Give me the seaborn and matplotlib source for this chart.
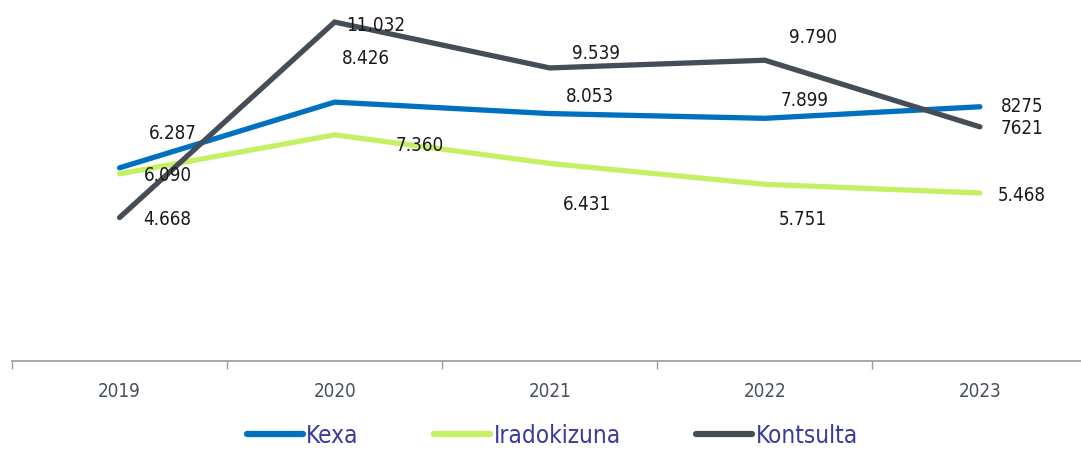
import pandas as pd
import matplotlib
matplotlib.use("Agg")
import matplotlib.pyplot as plt
import seaborn as sns

# Data
years = ["2019", "2020", "2021", "2022", "2023"]
kexa = [6287, 8426, 8053, 7899, 8275]
iradokizuna = [6090, 7360, 6431, 5751, 5468]
kontsulta = [4668, 11032, 9539, 9790, 7621]

kexa_labels = ["6.287", "8.426", "8.053", "7.899", "8275"]
iradokizuna_labels = ["6.090", "7.360", "6.431", "5.751", "5.468"]
kontsulta_labels = ["4.668", "11.032", "9.539", "9.790", "7621"]

series_names = ["Kexa", "Iradokizuna", "Kontsulta"]
colors = {"Kexa": "#0070c0", "Iradokizuna": "#c6f064", "Kontsulta": "#454d58"}

# Label offsets (pixels) relative to each point, as in the original layout
label_offsets = {
    "Kexa": [(53, 34), (31, 44), (40, 17), (40, 18), (42, 0)],
    "Iradokizuna": [(48, -2), (85, -11), (37, -41), (38, -35), (42, -2)],
    "Kontsulta": [(48, -2), (41, -3), (46, 14), (48, 23), (42, -2)],
}

df = pd.DataFrame({"Year": years * 3,
                   "Value": kexa + iradokizuna + kontsulta,
                   "Series": [s for s in series_names for _ in years]})

sns.set_style("white")
plt.rcParams["font.family"] = ["DejaVu Sans"]
plt.rcParams["font.stretch"] = "condensed"

fig = plt.figure(figsize=(10.81, 4.51), dpi=100)
ax = fig.add_axes([12 / 1081, 90 / 451, 1 - 12 / 1081, 361 / 451])

sns.lineplot(data=df, x="Year", y="Value", hue="Series", palette=colors,
             linewidth=3.8, ax=ax, legend=False, sort=False)
for line in ax.get_lines():
    line.set_solid_capstyle("round")
    line.set_solid_joinstyle("miter")

all_labels = {"Kexa": kexa_labels, "Iradokizuna": iradokizuna_labels, "Kontsulta": kontsulta_labels}
all_values = {"Kexa": kexa, "Iradokizuna": iradokizuna, "Kontsulta": kontsulta}
for name in series_names:
    for i, (val, lab) in enumerate(zip(all_values[name], all_labels[name])):
        ax.annotate(lab, (i, val), xytext=label_offsets[name][i], textcoords="offset pixels",
                    ha="center", va="center", fontsize=13.5, color="#1a1a1a")

# Tick marks at category boundaries, labels centred on categories
ax.set_xticks([x - 0.5 for x in range(6)], minor=True)
ax.tick_params(axis="x", which="minor", bottom=True, length=6, width=1, color="#9a9a9a", direction="out")
ax.tick_params(axis="x", which="major", bottom=False, length=0, pad=15, labelsize=13.5, labelcolor="#4a505a")

ax.set_xlim(-0.5, 4.47)
ax.set_ylim(0, 11750)
ax.set_yticks([])
ax.set_xlabel("")
ax.set_ylabel("")
for side in ["top", "right", "left"]:
    ax.spines[side].set_visible(False)
ax.spines["bottom"].set_color("#9a9a9a")
ax.spines["bottom"].set_linewidth(1.2)

handles = [plt.Line2D([], [], color=colors[n], linewidth=4.5, solid_capstyle="round") for n in series_names]
leg = fig.legend(handles, series_names, loc="center", bbox_to_anchor=(0.511, 15 / 451), ncol=3,
                 frameon=False, fontsize=17.5, handlelength=2.3, handletextpad=0.15, columnspacing=3.1,
                 borderpad=0)
for t in leg.get_texts():
    t.set_color("#3b3b9c")

fig.savefig("out.png", dpi=100)
